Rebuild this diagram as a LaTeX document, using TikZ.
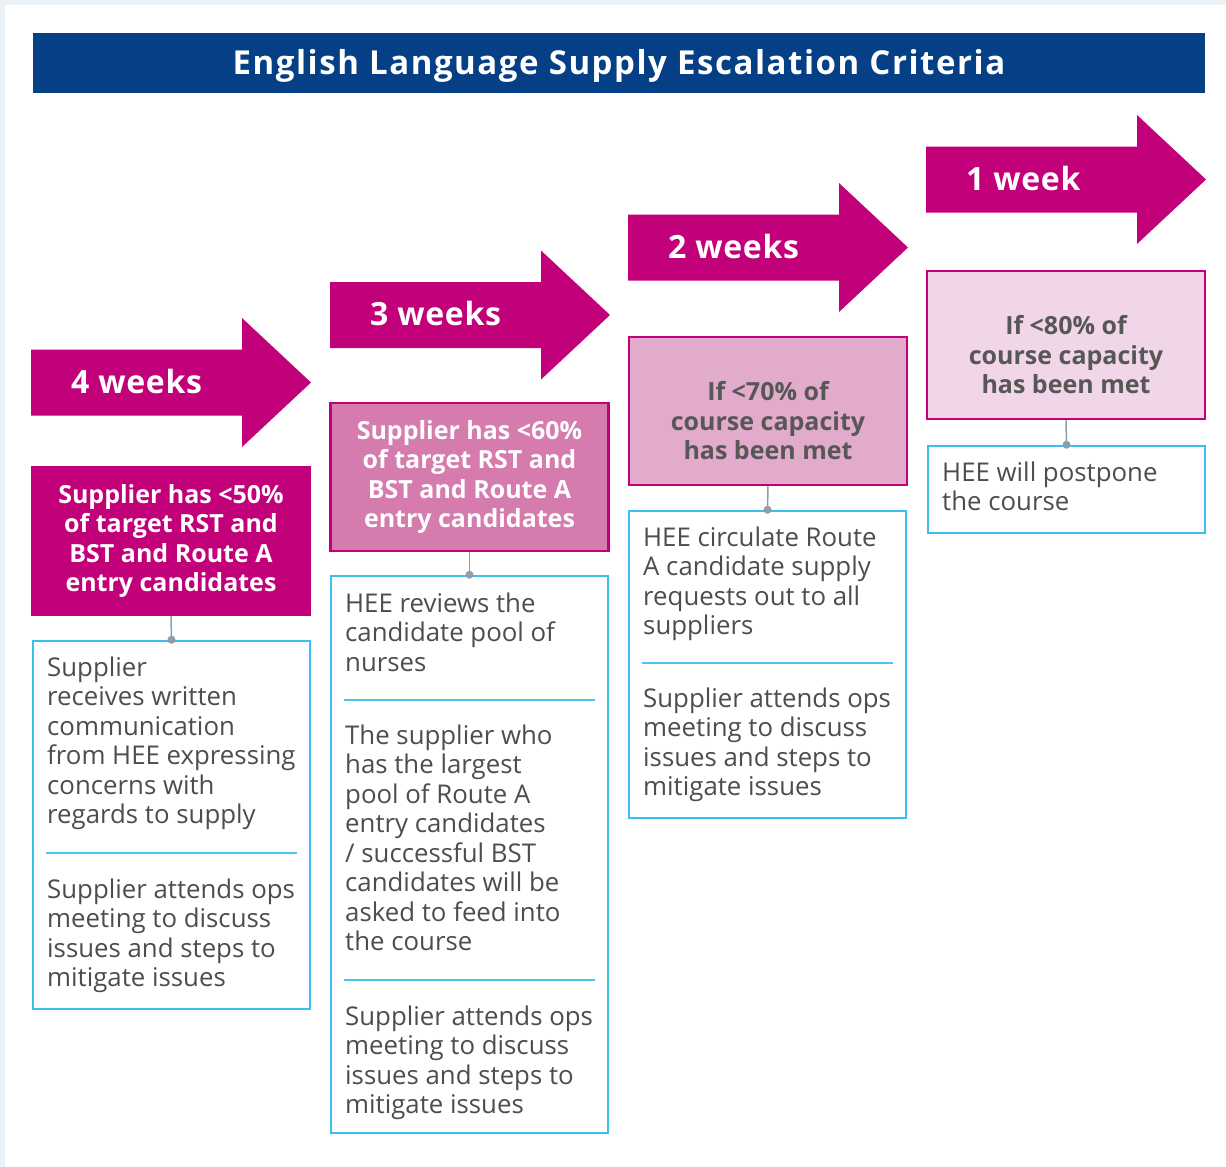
\documentclass[tikz,border=0pt]{standalone}
\usepackage{fontspec}
\setmainfont{Open Sans}
\newfontfamily\headfont[LetterSpace=4.7]{Open Sans}
\newfontfamily\weekfont[LetterSpace=2]{Open Sans}
\usetikzlibrary{calc}

\definecolor{pagebg}{HTML}{EBF2F5}
\definecolor{titleblue}{HTML}{053F85}
\definecolor{heemag}{HTML}{C1007A}
\definecolor{pinkB}{HTML}{D57BAE}
\definecolor{pinkC}{HTML}{E2AACB}
\definecolor{pinkD}{HTML}{F1D5E8}
\definecolor{cyanline}{HTML}{3DBFEE}
\definecolor{sepline}{HTML}{4EC4F0}
\definecolor{linkgrey}{HTML}{8D9DA9}
\definecolor{bodytext}{HTML}{4D4D4D}
\definecolor{greytext}{HTML}{575757}

% top-aligned paragraph: node baseline = first line baseline
\newcommand\firstbase[1]{\parbox[t]{262pt}{\raggedright #1}}
% extra headroom on a first line so three-line labels sit lower
\newcommand\lowerlabel{\rule{0pt}{39pt}}

\begin{document}
\begin{tikzpicture}[x=1pt,y=-1pt,
  titlebar/.style={fill=titleblue, text=white, inner sep=0pt,
    minimum width=1172pt, minimum height=60pt, text height=22pt, text depth=0pt,
    font=\headfont\bfseries\fontsize{33}{38}\selectfont},
  weeklabel/.style={anchor=west, text=white, inner sep=0pt, text height=21pt, text depth=0pt,
    font=\weekfont\bfseries\fontsize{32}{36}\selectfont},
  critbox/.style={draw=heemag, line width=2.5pt, inner sep=0pt, align=center,
    minimum width=278pt, minimum height=148pt,
    font=\bfseries\fontsize{25}{29.5}\selectfont},
  actionbox/.style={draw=cyanline, line width=2.5pt, inner sep=0pt},
  blocktext/.style={anchor=base west, inner sep=0pt, text=bodytext,
    font=\fontsize{25.8}{29.5}\selectfont},
  sep/.style={draw=sepline, line width=1.5pt},
  link/.style={draw=linkgrey, line width=1.5pt},
  dot/.style={circle, fill=linkgrey, inner sep=0pt, minimum size=8pt},
]
\useasboundingbox (0,0) rectangle (1226,1167);
\fill[pagebg] (0,0) rectangle (1226,1167);
\fill[white] (5,5) rectangle (1226,1167);

% heading
\node[titlebar] (title) at (619,63) {English Language Supply Escalation Criteria};

% step arrows: left end, centre line
\foreach \lx/\cy/\name/\lab in {31/382.5/wk4/4 weeks, 330/315/wk3/3 weeks, 628/247.5/wk2/2 weeks, 926/179.5/wk1/1 week}{
  \fill[heemag] (\lx,\cy-33) -- ++(211,0) -- ++(0,-31.5) -- ++(69,64.5)
     -- ++(-69,64.5) -- ++(0,-31.5) -- ++(-211,0) -- cycle;
  \node[weeklabel] (\name) at (\lx+40,\cy) {\lab};
}

% criteria boxes
\node[critbox, fill=heemag, text=white] (c4) at (171,541)
  {Supplier has <50\%\\of target RST and\\BST and Route A\\entry candidates};
\node[critbox, fill=pinkB, text=white] (c3) at (469.5,477)
  {Supplier has <60\%\\of target RST and\\BST and Route A\\entry candidates};
\node[critbox, fill=pinkC, text=greytext] (c2) at (768,411)
  {\lowerlabel If <70\% of\\course capacity\\has been met};
\node[critbox, fill=pinkD, text=greytext] (c1) at (1066,345)
  {\lowerlabel If <80\% of\\course capacity\\has been met};

% action boxes
\node[actionbox, minimum width=277pt, minimum height=368pt] (a4) at (171.5,825) {};
\node[actionbox, minimum width=277pt, minimum height=557pt] (a3) at (469.5,854.5) {};
\node[actionbox, minimum width=277pt, minimum height=307pt] (a2) at (767.5,664.5) {};
\node[actionbox, minimum width=277pt, minimum height=87pt] (a1) at (1066.5,489.5) {};

% connectors
\foreach \c/\a in {c4/a4, c3/a3, c2/a2, c1/a1}{
  \draw[link] (\c.south) -- (\a.north);
  \node[dot] at (\a.north) {};
}

% 4 weeks actions
\node[blocktext] (t4a) at (47,676) {\firstbase{Supplier\\receives written\\communication\\from HEE expressing\\concerns with\\regards to supply}};
\draw[sep] ([shift={(14,213)}]a4.north west) -- ([shift={(-14,213)}]a4.north east);
\node[blocktext] (t4b) at (47,898) {\firstbase{Supplier attends ops\\meeting to discuss\\issues and steps to\\mitigate issues}};

% 3 weeks actions
\node[blocktext] (t3a) at (345,612) {\firstbase{HEE reviews the\\candidate pool of\\nurses}};
\draw[sep] ([shift={(14,125)}]a3.north west) -- ([shift={(-14,125)}]a3.north east);
\node[blocktext] (t3b) at (345,744) {\firstbase{The supplier who\\has the largest\\pool of Route A\\entry candidates\\/ successful BST\\candidates will be\\asked to feed into\\the course}};
\draw[sep] ([shift={(14,405)}]a3.north west) -- ([shift={(-14,405)}]a3.north east);
\node[blocktext] (t3c) at (345,1025) {\firstbase{Supplier attends ops\\meeting to discuss\\issues and steps to\\mitigate issues}};

% 2 weeks actions
\node[blocktext] (t2a) at (643,546) {\firstbase{HEE circulate Route\\A candidate supply\\requests out to all\\suppliers}};
\draw[sep] ([shift={(14,153)}]a2.north west) -- ([shift={(-14,153)}]a2.north east);
\node[blocktext] (t2b) at (643,707) {\firstbase{Supplier attends ops\\meeting to discuss\\issues and steps to\\mitigate issues}};

% 1 week action
\node[blocktext] (t1a) at (942,481) {\firstbase{HEE will postpone\\the course}};
\end{tikzpicture}
\end{document}
